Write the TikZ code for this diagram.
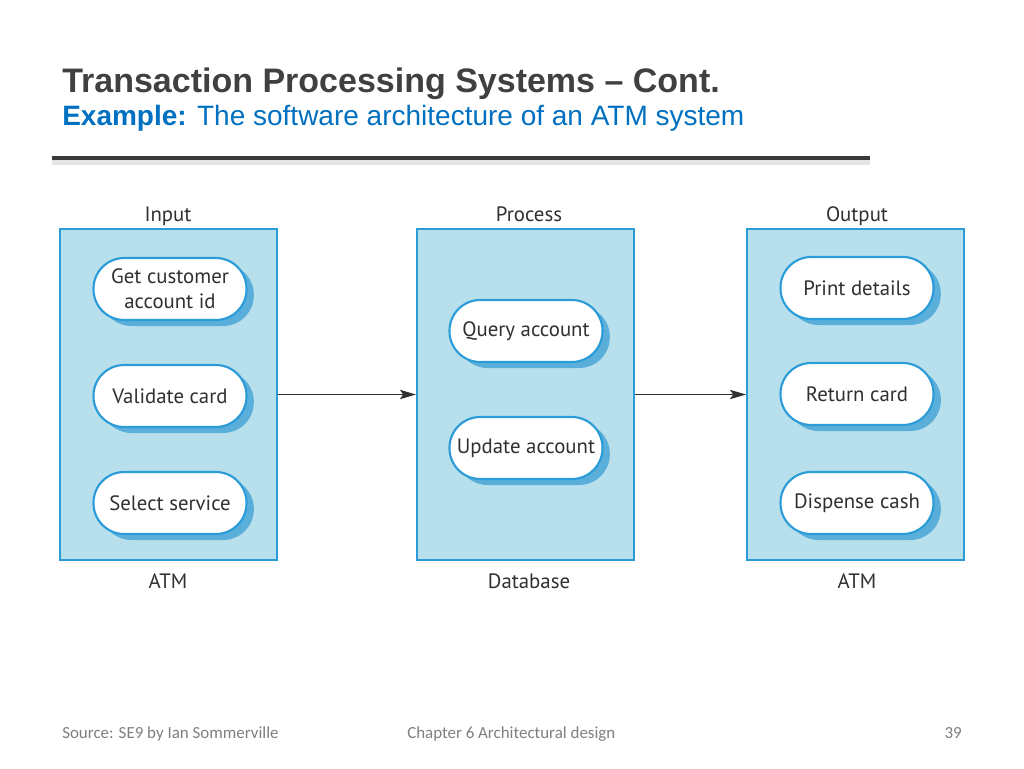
\documentclass[tikz,border=0pt]{standalone}
\usepackage{fontspec}
\setmainfont{Liberation Sans}
\newfontfamily\diag{PT Sans}
\newfontfamily\foot{Carlito}
\usetikzlibrary{arrows.meta,shadows}
\definecolor{titlegray}{HTML}{404040}
\definecolor{subblue}{HTML}{0070C0}
\definecolor{boxfill}{HTML}{B8E0EC}
\definecolor{boxline}{HTML}{2B9CD8}
\definecolor{shadowblue}{HTML}{5AAFDA}
\definecolor{txtgray}{HTML}{303030}
\definecolor{footgray}{HTML}{7F7F7F}
\tikzset{
  stage/.style={draw=boxline, fill=boxfill, line width=1.6pt, minimum width=162.75pt, minimum height=248.25pt, inner sep=0pt},
  pill/.style={draw=boxline, fill=white, line width=1.6pt, rounded corners=23pt, minimum width=114.75pt, minimum height=46.5pt, align=center, inner sep=2pt, font=\diag\fontsize{15.6}{19}\selectfont, text=txtgray,
    drop shadow={shadow xshift=5.5pt, shadow yshift=-4.5pt, fill=shadowblue, opacity=1}},
  caption/.style={font=\diag\fontsize{15.6}{18}\selectfont, text=txtgray, anchor=base, inner sep=0pt},
  flow/.style={draw=txtgray, line width=0.8pt, -{Stealth[length=12pt,width=7pt,inset=2.5pt]}},
  foottext/.style={font=\foot\fontsize{12.7}{14}\selectfont, text=footgray, anchor=base west, inner sep=0pt}
}
\begin{document}
\begin{tikzpicture}[x=0.75pt,y=-0.75pt]
\useasboundingbox[fill=white] (0,0) rectangle (1024,768);
% title
\node[anchor=base west, inner sep=0pt, text=titlegray, font=\bfseries\fontsize{25.5}{28}\selectfont] (title) at (62,92) {Transaction Processing Systems -- Cont.};
\node[anchor=base west, inner sep=0pt, text=subblue, font=\fontsize{21}{24}\selectfont] (subtitle) at (62,125) {\textbf{Example:} The software architecture of an ATM system};
% rule
\coordinate (r1) at (52,158);
\coordinate (r2) at (870,158);
\draw[line width=4pt, black!10] ([yshift=-3pt]r1) -- ([yshift=-3pt]r2);
\draw[line width=3.5pt, titlegray!90!black] (r1) -- (r2);
% stages
\node[stage] (inbox) at (168.5,394.5) {};
\node[stage] (procbox) at (525.5,394.5) {};
\node[stage] (outbox) at (855.5,394.5) {};
\node[caption] (inlab) at (168,221) {Input};
\node[caption] (proclab) at (529,221) {Process};
\node[caption] (outlab) at (857,221) {Output};
\node[caption] (inatm) at (168,588) {ATM};
\node[caption] (db) at (529,588) {Database};
\node[caption] (outatm) at (857,588) {ATM};
% pills
\node[pill] (getid) at (170,289) {Get customer\\account id};
\node[pill] (valid) at (170,396) {Validate card};
\node[pill] (select) at (170,503) {Select service};
\node[pill] (query) at (526,331) {Query account};
\node[pill] (update) at (526,448) {Update account};
\node[pill] (print) at (857,288) {Print details};
\node[pill] (ret) at (857,394) {Return card};
\node[pill] (cash) at (857,503) {Dispense cash};
% arrows
\draw[flow] (inbox.east) -- (procbox.west);
\draw[flow] (procbox.east) -- (outbox.west);
% footer
\node[foottext] (src) at (62,738) {Source: SE9 by Ian Sommerville};
\node[foottext] (chap) at (407,738) {Chapter 6 Architectural design};
\node[foottext, anchor=base east] (pg) at (962,738) {39};
\end{tikzpicture}
\end{document}
